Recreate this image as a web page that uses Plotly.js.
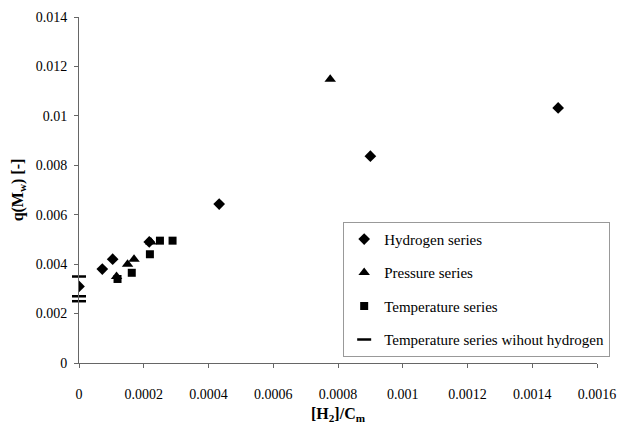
<!DOCTYPE html>
<html>
<head>
<meta charset="utf-8">
<script src="https://cdn.plot.ly/plotly-3.0.1.min.js"></script>
<style>html,body{margin:0;padding:0;background:#fff;}#chart{width:622px;height:424px;}</style>
</head>
<body>
<div id="chart"></div>
<script>
// Hydrogen series
const hydrogenX = [0, 0.000072, 0.000104, 0.000217, 0.000433, 0.0009, 0.00148];
const hydrogenY = [0.0031, 0.0038, 0.0042, 0.0049, 0.00643, 0.00837, 0.01032];
// Pressure series
const pressureX = [0.000116, 0.00015, 0.00017, 0.000222, 0.000776];
const pressureY = [0.0035, 0.0040, 0.0042, 0.0049, 0.01148];
// Temperature series
const temperatureX = [0.000119, 0.000163, 0.000219, 0.00025, 0.000289];
const temperatureY = [0.0034, 0.00365, 0.0044, 0.00495, 0.00495];
// Temperature series without hydrogen
const noH2X = [0, 0, 0];
const noH2Y = [0.0035, 0.0027, 0.0025];

const seriesNames = ["Hydrogen series", "Pressure series", "Temperature series", "Temperature series wihout hydrogen"];

const xTickVals = [0, 0.0002, 0.0004, 0.0006, 0.0008, 0.001, 0.0012, 0.0014, 0.0016];
const xTickText = ["0", "0.0002", "0.0004", "0.0006", "0.0008", "0.001", "0.0012", "0.0014", "0.0016"];
const yTickVals = [0, 0.002, 0.004, 0.006, 0.008, 0.01, 0.012, 0.014];
const yTickText = ["0", "0.002", "0.004", "0.006", "0.008", "0.01", "0.012", "0.014"];

const font = "Liberation Serif";

const traces = [
  {x: hydrogenX, y: hydrogenY, name: seriesNames[0], mode: "markers", type: "scatter",
   legendgroup: "a", marker: {symbol: "diamond", size: 9, color: "#000"}},
  {x: pressureX, y: pressureY, name: seriesNames[1], mode: "markers", type: "scatter",
   legendgroup: "b", marker: {symbol: "triangle-up", size: 10, color: "#000"}},
  {x: temperatureX, y: temperatureY, name: seriesNames[2], mode: "markers", type: "scatter",
   legendgroup: "c", marker: {symbol: "square", size: 8, color: "#000"}},
  {x: noH2X, y: noH2Y, name: seriesNames[3], mode: "markers", type: "scatter",
   legendgroup: "d", cliponaxis: false,
   marker: {symbol: "line-ew", size: 10, color: "#000", line: {color: "#000", width: 2.5}}}
];

const layout = {
  width: 622, height: 424,
  margin: {l: 79, r: 22, t: 17, b: 61},
  paper_bgcolor: "#fff", plot_bgcolor: "#fff",
  font: {family: font, size: 13, color: "#000"},
  showlegend: true,
  legend: {
    x: 0.51, y: 0.408, xanchor: "left", yanchor: "top",
    bgcolor: "#fff", bordercolor: "#999", borderwidth: 1,
    font: {family: font, size: 15, color: "#000"},
    traceorder: "grouped", tracegroupgap: 11,
    itemwidth: 30
  },
  xaxis: {
    range: [0, 0.0016], tickvals: xTickVals, ticktext: xTickText,
    showgrid: false, zeroline: false, showline: true, linecolor: "#666", linewidth: 1,
    ticks: "outside", ticklen: 4, tickcolor: "#666", ticklabelstandoff: 14,
    tickfont: {family: font, size: 14, color: "#000"},
    title: {text: "<b>[H<sub>2</sub>]/C<sub>m</sub></b>", font: {family: font, size: 16, color: "#000"}, standoff: 8}
  },
  yaxis: {
    range: [0, 0.014], tickvals: yTickVals, ticktext: yTickText,
    showgrid: false, zeroline: false, showline: true, linecolor: "#666", linewidth: 1,
    ticks: "outside", ticklen: 4, tickcolor: "#666", ticklabelstandoff: 4,
    tickfont: {family: font, size: 14, color: "#000"},
    title: {text: "<b>q(M<sub>w</sub>) [-]</b>", font: {family: font, size: 16, color: "#000"}, standoff: 8}
  }
};

Plotly.newPlot("chart", traces, layout, {displayModeBar: false, staticPlot: true});
</script>
</body>
</html>
